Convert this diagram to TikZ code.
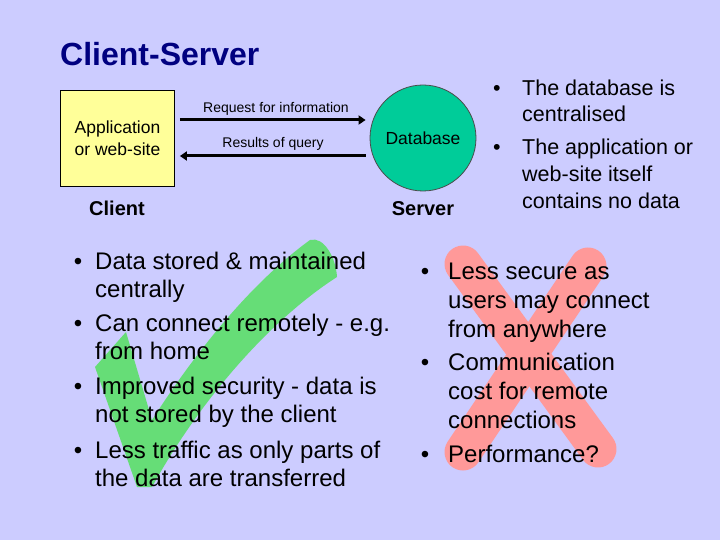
\documentclass[tikz,border=0pt]{standalone}
\usepackage{fontspec}
\setmainfont{Liberation Sans}
\usetikzlibrary{arrows.meta}

\definecolor{slidebg}{RGB}{204,204,255}
\definecolor{titleblue}{RGB}{0,0,128}
\definecolor{appyellow}{RGB}{255,255,153}
\definecolor{dbgreen}{RGB}{0,204,153}
\definecolor{tickgreen}{RGB}{102,221,119}
\definecolor{crossred}{RGB}{255,153,153}

\begin{document}
\begin{tikzpicture}[x=1pt, y=-1pt,
    flow/.style={line width=3pt, -{Triangle[length=7pt,width=9pt]}},
    body/.style={anchor=base west, inner sep=0pt, font=\fontsize{24}{28}\selectfont},
    small/.style={anchor=base west, inner sep=0pt, font=\fontsize{21.5}{26}\selectfont},
    dot/.style={anchor=base, inner sep=0pt, font=\fontsize{24}{28}\selectfont},
    side/.style={anchor=base, inner sep=0pt, font=\bfseries\fontsize{20}{24}\selectfont}]
  \fill[slidebg] (0,0) rectangle (720,540);
  \useasboundingbox (0,0) rectangle (720,540);
  \node[anchor=base west, inner sep=0pt, text=titleblue, font=\bfseries\fontsize{32}{36}\selectfont] (title) at (60,66) {Client-Server};
  % tick and cross sit under the bullet text
  \fill[tickgreen] (95,367) -- (126,332) -- (152,420)
    .. controls (200,345) and (255,280) .. (310,240)
    .. controls (324,236) and (336,258) .. (337,277)
    .. controls (270,320) and (200,400) .. (152,487) -- (137,487) -- cycle;
  \draw[crossred, line width=37pt, line cap=round] (463,264) -- (598,449);
  \draw[crossred, line width=37pt, line cap=round] (588,266) -- (463,452);
  % client and server
  \node[draw, fill=appyellow, line width=0.8pt, minimum width=114pt, minimum height=96pt, align=center,
        font=\fontsize{17.5}{21.5}\selectfont] (app) at (117.5,138) {Application\\or web-site};
  \node[draw=black!70, fill=dbgreen, circle, line width=0.8pt, minimum size=106pt,
        font=\fontsize{17.5}{21}\selectfont] (db) at (423,138) {Database};
  \draw[flow, shorten <=5pt, shorten >=4pt] ([yshift=18pt]app.east) -- ([yshift=18pt]app.east -| db.west);
  \draw[flow, shorten <=4pt, shorten >=5pt] ([yshift=-18pt]app.east -| db.west) -- ([yshift=-18pt]app.east);
  \node[anchor=base, inner sep=0pt, font=\fontsize{14}{16}\selectfont] (req) at (276,113) {Request for information};
  \node[anchor=base, inner sep=0pt, font=\fontsize{14}{16}\selectfont] (res) at (273,148) {Results of query};
  \node[side] (client) at (117,215) {Client};
  \node[side] (server) at (423,215) {Server};
  % server notes
  \foreach \y/\t [count=\i] in {96/The database is, 122/centralised, 155/The application or,
      182/web-site itself, 208/contains no data}
    \node[small] (note\i) at (522,\y) {\t};
  \foreach \y [count=\i] in {96,155}
    \node[dot, font=\fontsize{21.5}{26}\selectfont] (nb\i) at (497,\y) {\textbullet};
  % advantages
  \foreach \y/\t [count=\i] in {269/Data stored \& maintained, 297/centrally, 331/Can connect remotely - e.g.,
      359/from home, 394/Improved security - data is, 422/not stored by the client,
      458/Less traffic as only parts of, 486/the data are transferred}
    \node[body] (pro\i) at (95,\y) {\t};
  \foreach \y [count=\i] in {269,331,394,458}
    \node[dot] (pb\i) at (78,\y) {\textbullet};
  % disadvantages
  \foreach \y/\t [count=\i] in {279/Less secure as, 308/users may connect, 337/from anywhere,
      370/Communication, 399/cost for remote, 428/connections, 462/Performance?}
    \node[body] (con\i) at (448,\y) {\t};
  \foreach \y [count=\i] in {279,370,462}
    \node[dot] (cb\i) at (425,\y) {\textbullet};
\end{tikzpicture}
\end{document}
